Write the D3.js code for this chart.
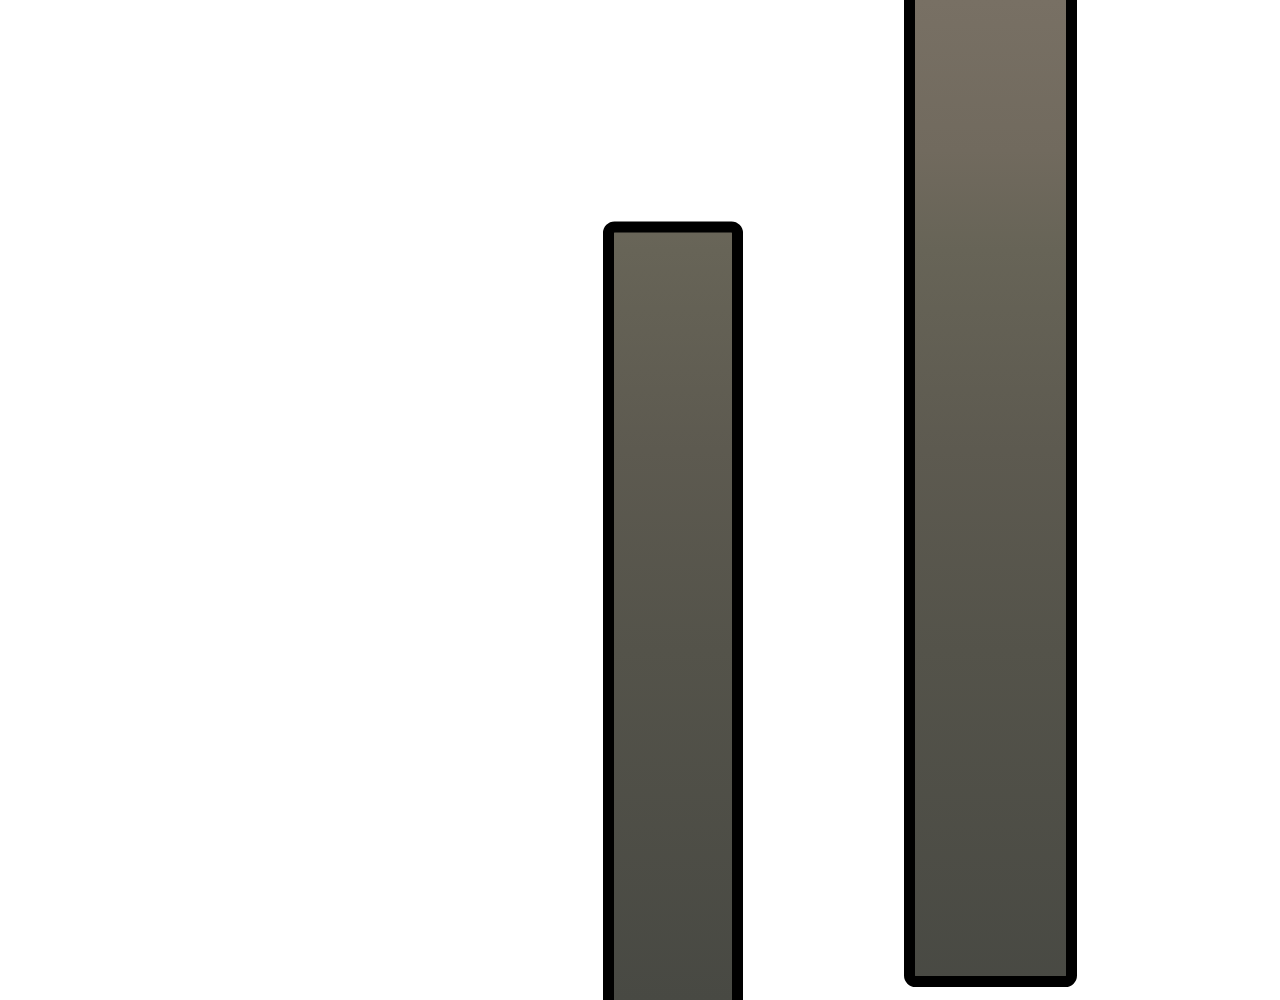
<!DOCTYPE html>
<html><head><meta charset="utf-8">
<script src="https://cdn.jsdelivr.net/npm/d3@7"></script>
<style>html,body{margin:0;padding:0;background:#fff;overflow:hidden}</style>
</head><body>
<script>
const categories = ["A", "B"];
const binStart = [60.85, 90.95];
const binEnd = [73.75, 107.15];
const lowValues = [-5, 1.85];
const highValues = [77.3, 105];

const W = 1280, H = 1000;
const svg = d3.select("body").append("svg").attr("width", W).attr("height", H);
const x = d3.scaleLinear().domain([0, 128]).range([0, W]);
const y = d3.scaleLinear().domain([0, 100]).range([H, 0]);

const defs = svg.append("defs");
const g = defs.append("linearGradient").attr("id", "barGrad")
  .attr("gradientUnits", "userSpaceOnUse").attr("x1", 0).attr("x2", 0).attr("y1", 0).attr("y2", H);
[["0", "#787064"], ["0.15", "#716a5e"], ["0.25", "#676457"], ["0.45", "#5d5a50"],
 ["0.65", "#54534a"], ["1", "#484943"]].forEach(([o, c]) =>
  g.append("stop").attr("offset", o).attr("stop-color", c));

const data = categories.map((c, i) => ({c, x0: binStart[i], x1: binEnd[i], lo: lowValues[i], hi: highValues[i]}));
svg.selectAll("rect.bar").data(data).join("rect").attr("class", "bar")
  .attr("x", d => x(d.x0)).attr("width", d => x(d.x1) - x(d.x0))
  .attr("y", d => y(d.hi)).attr("height", d => y(d.lo) - y(d.hi))
  .attr("rx", 6).attr("ry", 6)
  .attr("fill", "url(#barGrad)").attr("stroke", "#000").attr("stroke-width", 11);
</script>
</body></html>
